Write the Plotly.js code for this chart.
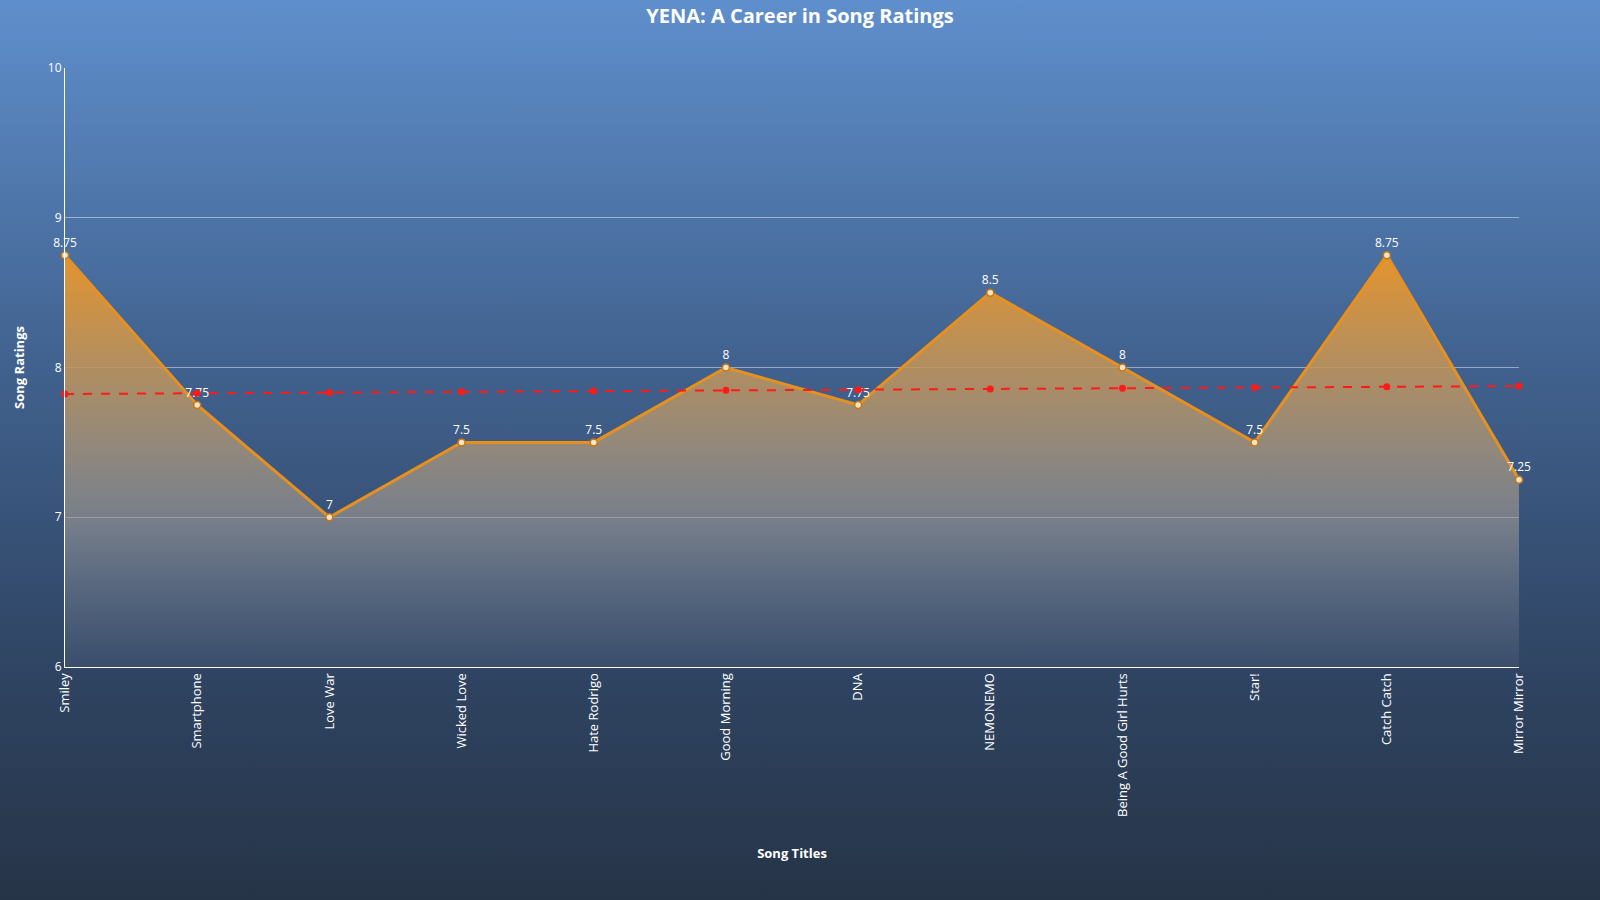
<!DOCTYPE html>
<html>
<head>
<meta charset="utf-8">
<script src="https://cdn.plot.ly/plotly-3.0.1.min.js"></script>
<style>
  html, body { margin: 0; padding: 0; }
  #chart {
    width: 1600px; height: 900px;
    background: linear-gradient(to bottom, #5f8fcc 0%, #41628f 40%, #2f4462 75%, #263447 100%);
  }
</style>
</head>
<body>
<div id="chart"></div>
<script>
const songs = ['Smiley', 'Smartphone', 'Love War', 'Wicked Love', 'Hate Rodrigo', 'Good Morning',
  'DNA', 'NEMONEMO', 'Being A Good Girl Hurts', 'Star!', 'Catch Catch', 'Mirror Mirror'];
const ratings = [8.75, 7.75, 7, 7.5, 7.5, 8, 7.75, 8.5, 8, 7.5, 8.75, 7.25];
const trend = [7.823, 7.828, 7.833, 7.838, 7.843, 7.848, 7.852, 7.857, 7.862, 7.867, 7.871, 7.876];

const fontFam = '"Segoe UI", "Open Sans", "Noto Sans", sans-serif';

const ratingTrace = {
  x: songs, y: ratings, type: 'scatter', mode: 'lines+markers+text',
  text: ratings.map(String), textposition: 'top center',
  textfont: { color: '#ffffff', size: 12, family: fontFam },
  cliponaxis: false,
  line: { color: '#e8901e', width: 3 },
  marker: { size: 7, color: '#f3e3c8', line: { color: '#c87512', width: 1.5 } },
  fill: 'tozeroy',
  fillgradient: {
    type: 'vertical', start: 6, stop: 8.75,
    colorscale: [[0, 'rgba(120,130,150,0.15)'], [0.35, 'rgba(160,155,150,0.6)'], [0.6, 'rgba(180,150,110,0.8)'], [1, 'rgba(235,150,40,0.95)']]
  },
  hoverinfo: 'x+y'
};

const trendTrace = {
  x: songs, y: trend, type: 'scatter', mode: 'lines+markers',
  cliponaxis: false,
  line: { color: '#ff1a1a', width: 2, dash: 'dash' },
  marker: { size: 7, color: '#ff1a1a' },
  hoverinfo: 'skip'
};

const layout = {
  width: 1600, height: 900,
  paper_bgcolor: 'rgba(0,0,0,0)', plot_bgcolor: 'rgba(0,0,0,0)',
  margin: { l: 65, r: 81, t: 68, b: 233 },
  showlegend: false,
  font: { family: fontFam, color: '#ffffff' },
  title: { text: '<b>YENA: A Career in Song Ratings</b>', x: 0.5, y: 0.99, yanchor: 'top',
    font: { size: 20, color: '#ffffff', family: fontFam } },
  xaxis: {
    title: { text: '<b>Song Titles</b>', font: { size: 13, color: '#ffffff' }, standoff: 32 },
    tickangle: -90, tickfont: { size: 13, color: '#ffffff' },
    showgrid: false, showline: true, linecolor: '#ffffff', linewidth: 1,
    range: [0, 11], zeroline: false
  },
  yaxis: {
    title: { text: '<b>Song Ratings</b>', font: { size: 13, color: '#ffffff' }, standoff: 20 },
    range: [6, 10], dtick: 1, tickfont: { size: 12, color: '#ffffff' },
    gridcolor: 'rgba(255,255,255,0.45)', gridwidth: 1,
    showline: true, linecolor: '#ffffff', linewidth: 1, zeroline: false, ticks: ''
  }
};

Plotly.newPlot('chart', [ratingTrace, trendTrace], layout, { displayModeBar: false });
</script>
</body>
</html>
